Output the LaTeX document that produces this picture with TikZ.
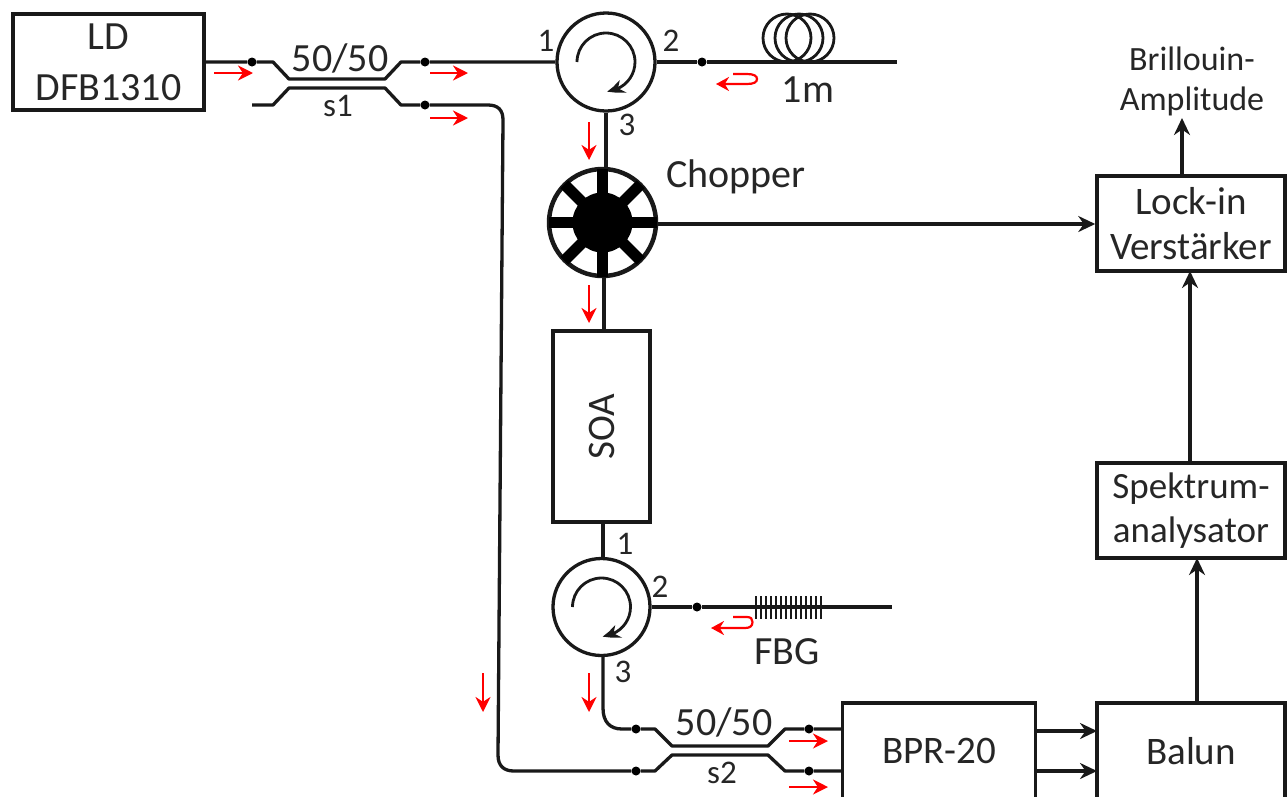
\documentclass[tikz,border=0pt]{standalone}
\usepackage{fontspec}
\setmainfont{Carlito}
\usetikzlibrary{arrows.meta,calc,bending}
\tikzset{
  x=1pt,y=1pt,
  fiber/.style={line width=3.3pt,draw=black!90,line join=round},
  boxn/.style={draw=black!90,line width=3.5pt,rectangle,inner sep=0pt,align=center,font=\fontsize{39}{45}\selectfont,text=black!85},
  circn/.style={draw=black!90,line width=3.3pt,circle,inner sep=0pt},
  fdot/.style={circle,fill=black,inner sep=0pt,minimum size=9pt},
  lab/.style={inner sep=0pt,font=\fontsize{40}{46}\selectfont,text=black!85,align=center},
  slab/.style={inner sep=0pt,font=\fontsize{33}{38}\selectfont,text=black!85,align=center},
  plab/.style={inner sep=0pt,font=\fontsize{33}{38}\selectfont,text=black!85},
  redarrow/.style={draw=red,line width=2.6pt,-{Stealth[length=15pt,width=15pt]}},
  sigarrow/.style={draw=black!90,line width=3.4pt,-{Stealth[length=17pt,width=16pt]}},
  inner/.style={line width=2.8pt,draw=black!90,-{Stealth[length=17pt,width=14pt,bend]}},
}
\begin{document}
\begin{tikzpicture}
\useasboundingbox (0,0) rectangle (1287,-796);
\clip (0,0) rectangle (1287,-796);
% boxes
\node[boxn,minimum width=191pt,minimum height=96pt,font=\fontsize{40}{51}\selectfont] (ld) at (108.5,-62) {LD\\DFB1310};
\node[boxn,rotate=90,minimum width=191pt,minimum height=97pt] (soa) at (601.5,-426.5) {SOA};
\node[boxn,minimum width=188pt,minimum height=95pt] (lock) at (1191,-223.5) {Lock-in\\Verstärker};
\node[boxn,minimum width=188pt,minimum height=95pt,font=\fontsize{37}{44}\selectfont] (spek) at (1191,-510.5) {Spektrum-\\analysator};
\node[boxn,minimum width=193pt,minimum height=96pt] (bpr) at (939,-751) {BPR-20};
\node[boxn,minimum width=188pt,minimum height=96pt] (balun) at (1191,-751) {Balun};
% circulators and chopper
\node[circn,minimum size=98pt] (c1) at (606,-62) {};
\node[circn,minimum size=97pt] (c2) at (601.5,-607) {};
\node[circn,minimum size=107pt,line width=4.5pt] (ch) at (602.5,-222.5) {};
\foreach \a in {0,45,...,315}{
  \draw[line width=11pt,draw=black] (ch.center) -- ($(ch.center)+(\a:54)$);
}
\fill[black] (ch.center) circle[radius=30];
% inner arcs
\coordinate (a1) at ($(c1.center)+(-29,0)$);
\draw[inner] (a1) arc[start angle=180,end angle=-88,radius=29];
\coordinate (a2) at ($(c2.center)+(-29,0)$);
\draw[inner] (a2) arc[start angle=180,end angle=-88,radius=29];
% dots
\node[fdot] (d1) at (252,-62) {};
\node[fdot] (d2) at (425,-62) {};
\node[fdot] (d3) at (425,-105) {};
\node[fdot] (d4) at (702,-62) {};
\node[fdot] (d5) at (697,-607) {};
\node[fdot] (d6) at (636,-729) {};
\node[fdot] (d7) at (636,-771) {};
\node[fdot] (d8) at (809,-729) {};
\node[fdot] (d9) at (809,-771) {};
% free ends and bends
\coordinate (s1a) at (273,-62); \coordinate (s1b) at (289,-79);
\coordinate (s1c) at (385,-79); \coordinate (s1d) at (401,-62);
\coordinate (s1e) at (252,-105); \coordinate (s1f) at (273,-105);
\coordinate (s1g) at (289,-88); \coordinate (s1h) at (385,-88);
\coordinate (s1i) at (401,-105);
\coordinate (s2a) at (655,-729); \coordinate (s2b) at (672,-746);
\coordinate (s2c) at (768,-746); \coordinate (s2d) at (785,-729);
\coordinate (s2e) at (655,-771); \coordinate (s2f) at (672,-755);
\coordinate (s2g) at (768,-755); \coordinate (s2h) at (785,-771);
\coordinate (e1) at (897,-62);
\coordinate (e2) at (892,-607);
% fibres
\draw[fiber] (ld.east |- d1) -- (d1) -- (s1a) -- (s1b) -- (s1c) -- (s1d) -- (d2) -- (c1.west);
\draw[fiber] (s1e) -- (s1f) -- (s1g) -- (s1h) -- (s1i) -- (d3) -- (488,-105)
  .. controls (498,-105) and (503,-110) .. (503,-120)
  -- (498,-755) .. controls (498,-766) and (504,-771) .. (514,-771) -- (d7)
  -- (s2e) -- (s2f) -- (s2g) -- (s2h) -- (d9) -- (bpr.west |- d9);
\draw[fiber] (c1.east) -- (d4) -- (e1);
\draw[fiber] (c1.south) -- (ch.north -| c1.south);
\draw[fiber] ([xshift=1.5pt]ch.south) -- ([xshift=2.5pt]soa.east);
\draw[fiber] ([xshift=1.5pt]soa.west) -- ([xshift=1.5pt]c2.north);
\draw[fiber] (c2.east) -- (d5) -- (e2);
\draw[fiber] ([xshift=1.5pt]c2.south) -- (603,-708)
  .. controls (603,-722) and (610,-729) .. (622,-729) -- (d6)
  -- (s2a) -- (s2b) -- (s2c) -- (s2d) -- (d8) -- (bpr.west |- d8);
% fibre coil
\foreach \cx in {787,799,810}{
  \draw[line width=2.8pt,draw=black!90] (\cx,-38) circle[radius=24];
}
% FBG
\foreach \i in {0,...,13}{
  \draw[line width=2pt,draw=black!90] ($(756,-596)+(5*\i,0)$) -- ++(0,-23);
}
% signal arrows
\draw[sigarrow] ([yshift=-1.5pt]ch.east) -- ([yshift=-1.5pt]lock.west |- ch.east);
\draw[sigarrow] (1036,-731) -- (1097,-731);
\draw[sigarrow] (1036,-771) -- (1097,-771);
\draw[sigarrow] (1197,-703) -- (1197,-558);
\draw[sigarrow] (1190,-463) -- (1190,-271);
\node[slab,font=\fontsize{34}{40}\selectfont] (br) at (1192,-81) {Brillouin-\\Amplitude};
\coordinate (brb) at (1182,-118);
\draw[sigarrow] (1182,-176) -- (brb);
% red arrows
\draw[redarrow] (214,-73) -- (253,-73);
\draw[redarrow] (430,-73) -- (468,-73);
\draw[redarrow] (430,-118) -- (468,-118);
\draw[redarrow] (589,-122) -- (589,-160);
\draw[redarrow] (589,-285) -- (589,-323);
\draw[redarrow] (483,-673) -- (483,-712);
\draw[redarrow] (589,-673) -- (589,-712);
\draw[redarrow] (789,-741) -- (828,-741);
\draw[redarrow] (789,-787) -- (828,-787);
\draw[redarrow,-{Stealth[length=13pt,width=14pt]},line width=2.2pt] (733,-74) -- (747,-74)
  .. controls (754,-74) and (757,-76) .. (757,-79) .. controls (757,-82) and (754,-84) .. (747,-84) -- (716,-84);
\draw[redarrow,-{Stealth[length=13pt,width=14pt]},line width=2.2pt] (733,-617) -- (747,-617)
  .. controls (751,-617) and (752.5,-619) .. (752.5,-622) .. controls (752.5,-626) and (750,-628) .. (745,-628) -- (711,-628);
% labels
\node[lab] (t5050a) at (340,-58) {50/50};
\node[slab] (ts1) at (338,-106) {s1};
\node[lab] (t5050b) at (724,-722) {50/50};
\node[slab] (ts2) at (722,-773) {s2};
\node[lab] (t1m) at (808,-90) {1m};
\node[lab] (tch) at (736,-177) {Chopper};
\node[lab] (tfbg) at (787,-652) {FBG};
\node[plab] (p11) at (546,-41) {1};
\node[plab] (p12) at (671,-41) {2};
\node[plab] (p13) at (627,-125) {3};
\node[plab] (p21) at (625,-544) {1};
\node[plab] (p22) at (660,-587) {2};
\node[plab] (p23) at (623,-672) {3};
\end{tikzpicture}
\end{document}
